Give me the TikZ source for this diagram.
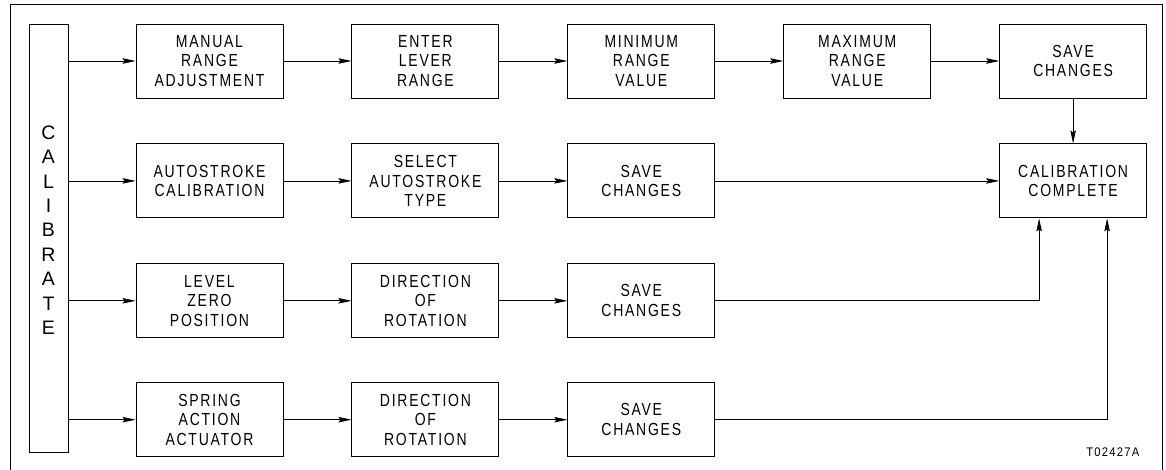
\documentclass[tikz,border=0pt]{standalone}
\usepackage{fontspec}
\setmainfont{Liberation Sans}
\newfontfamily\boxfont[FakeStretch=0.8,LetterSpace=10]{Liberation Sans}
\newfontfamily\tagfont[FakeStretch=0.9,LetterSpace=10]{Liberation Sans}
\usetikzlibrary{positioning,arrows.meta}

\begin{document}
\begin{tikzpicture}[
  x=1pt, y=-1pt,
  node distance=45pt and 68pt,
  box/.style={draw, line width=0.9pt, minimum width=147pt, minimum height=74pt,
    inner sep=0pt, align=center, font=\boxfont\fontsize{17.5}{19.7}\selectfont},
  bar/.style={draw, line width=0.9pt, minimum width=39pt, minimum height=428pt,
    inner sep=0pt, align=center, text depth=16pt,
    font=\fontsize{19.5}{24.4}\selectfont},
  arrow/.style={-{Stealth[length=13pt,width=5.5pt,inset=2pt]}, line width=0.8pt}
]
\useasboundingbox (0,0) rectangle (1166,469);
\draw[line width=1pt] (10,475) |- (1162,4) -- (1162,475);
\node[bar] (cal) at (48.5,238) {C\\A\\L\\I\\B\\R\\A\\T\\E};
% row 1
\node[box] (man) at (209.5,61) {MANUAL\\RANGE\\ADJUSTMENT};
\node[box, right=of man] (lev) {ENTER\\LEVER\\RANGE};
\node[box, right=of lev] (minv) {MINIMUM\\RANGE\\VALUE};
\node[box, right=of minv] (maxv) {MAXIMUM\\RANGE\\VALUE};
\node[box, right=of maxv] (save1) {SAVE\\CHANGES};
% row 2
\node[box, below=of man] (auto) {AUTOSTROKE\\CALIBRATION};
\node[box, right=of auto] (sel) {SELECT\\AUTOSTROKE\\TYPE};
\node[box, right=of sel] (save2) {SAVE\\CHANGES};
\node[box, below=of save1] (done) {CALIBRATION\\COMPLETE};
% row 3
\node[box, below=of auto] (zero) {LEVEL\\ZERO\\POSITION};
\node[box, right=of zero] (dir1) {DIRECTION\\OF\\ROTATION};
\node[box, right=of dir1] (save3) {SAVE\\CHANGES};
% row 4
\node[box, below=44pt of zero] (spring) {SPRING\\ACTION\\ACTUATOR};
\node[box, right=of spring] (dir2) {DIRECTION\\OF\\ROTATION};
\node[box, right=of dir2] (save4) {SAVE\\CHANGES};
\node[font=\tagfont\fontsize{12.5}{13}\selectfont, anchor=base east] (tag) at (1143,456) {T02427A};
\coordinate (in1) at ([xshift=-34pt]done.south);
\coordinate (in2) at ([xshift=34pt]done.south);
\draw[arrow] (cal.east |- man) -- (man);
\draw[arrow] (cal.east |- auto) -- (auto);
\draw[arrow] (cal.east |- zero) -- (zero);
\draw[arrow] (cal.east |- spring) -- (spring);
\draw[arrow] (man) -- (lev);
\draw[arrow] (lev) -- (minv);
\draw[arrow] (minv) -- (maxv);
\draw[arrow] (maxv) -- (save1);
\draw[arrow] (save1) -- (done);
\draw[arrow] (auto) -- (sel);
\draw[arrow] (sel) -- (save2);
\draw[arrow] (save2) -- (done);
\draw[arrow] (zero) -- (dir1);
\draw[arrow] (dir1) -- (save3);
\draw[arrow] (save3.east) -| (in1);
\draw[arrow] (spring) -- (dir2);
\draw[arrow] (dir2) -- (save4);
\draw[arrow] (save4.east) -| (in2);
\end{tikzpicture}
\end{document}
